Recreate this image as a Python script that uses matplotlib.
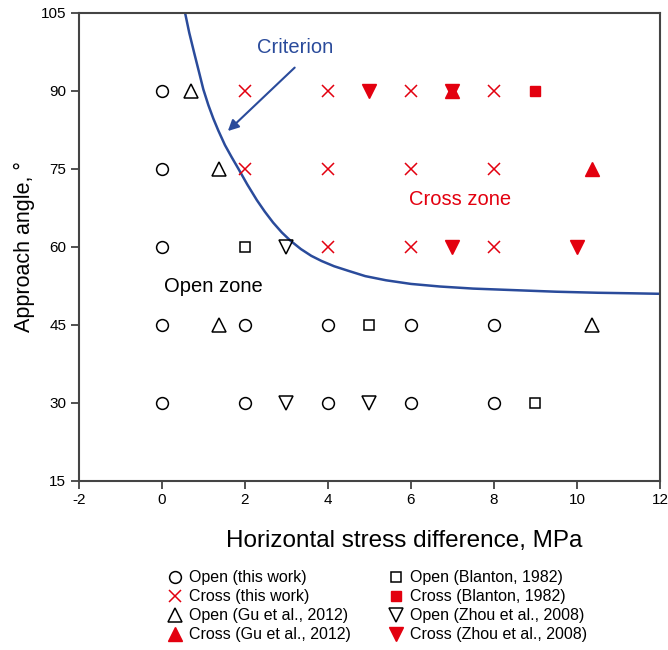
import matplotlib
matplotlib.use("Agg")
import matplotlib.pyplot as plt

plt.rcParams['font.family'] = ['Liberation Sans', 'DejaVu Sans']
plt.rcParams['axes.unicode_minus'] = False

RED = '#e3000f'
BLUE = '#2a4b9b'

# Data
open_this_x = [0, 0, 0, 0, 0, 2, 2, 4, 4, 6, 6, 8, 8]
open_this_y = [90, 75, 60, 45, 30, 45, 30, 45, 30, 45, 30, 45, 30]
cross_this_x = [2, 4, 6, 8, 2, 4, 6, 8, 4, 6, 8]
cross_this_y = [90, 90, 90, 90, 75, 75, 75, 75, 60, 60, 60]
open_gu_x = [0.7, 1.37, 1.37, 10.37]
open_gu_y = [90, 75, 45, 45]
cross_gu_x = [7.0, 10.37]
cross_gu_y = [90, 75]
open_blanton_x = [2, 5, 9]
open_blanton_y = [60, 45, 30]
cross_blanton_x = [9]
cross_blanton_y = [90]
open_zhou_x = [3, 3, 5]
open_zhou_y = [60, 30, 30]
cross_zhou_x = [5, 7, 7, 10]
cross_zhou_y = [90, 90, 60, 60]

crit_x = [0.56, 0.66, 0.78, 0.90, 1.00, 1.12, 1.24, 1.36, 1.52, 1.68, 1.84, 2.06, 2.29,
          2.48, 2.68, 2.89, 3.10, 3.35, 3.60, 3.85, 4.15, 4.50, 4.90, 5.40, 6.00, 6.70,
          7.50, 8.50, 9.50, 10.50, 11.30, 12.0]
crit_y = [105.0, 101.2, 97.3, 93.5, 90.3, 87.3, 84.7, 82.4, 79.6, 77.3, 75.1, 72.0, 69.0,
          66.8, 64.7, 62.8, 61.2, 59.6, 58.3, 57.3, 56.3, 55.4, 54.4, 53.6, 52.9, 52.4,
          52.0, 51.7, 51.4, 51.2, 51.1, 51.0]

xticks = [-2, 0, 2, 4, 6, 8, 10, 12]
yticks = [15, 30, 45, 60, 75, 90, 105]

fig = plt.figure(figsize=(6.68, 6.5), dpi=100)
ax = fig.add_axes([0.118, 0.26, 0.870, 0.72])

ms = 8.5
ax.plot(crit_x, crit_y, color=BLUE, lw=1.8, zorder=2)

h1, = ax.plot(open_this_x, open_this_y, 'o', ms=ms, mfc='none', mec='black', mew=1.1, ls='none', label='Open (this work)')
h2, = ax.plot(cross_this_x, cross_this_y, 'x', ms=ms, mec=RED, mew=1.1, ls='none', label='Cross (this work)')
h3, = ax.plot(open_gu_x, open_gu_y, '^', ms=10, mfc='none', mec='black', mew=1.1, ls='none', label='Open (Gu et al., 2012)')
h4, = ax.plot(cross_gu_x, cross_gu_y, '^', ms=10, mfc=RED, mec=RED, mew=1.0, ls='none', label='Cross (Gu et al., 2012)')
h5, = ax.plot(open_blanton_x, open_blanton_y, 's', ms=7.5, mfc='none', mec='black', mew=1.1, ls='none', label='Open (Blanton, 1982)')
h6, = ax.plot(cross_blanton_x, cross_blanton_y, 's', ms=7.5, mfc=RED, mec=RED, mew=1.0, ls='none', label='Cross (Blanton, 1982)')
h7, = ax.plot(open_zhou_x, open_zhou_y, 'v', ms=10, mfc='none', mec='black', mew=1.1, ls='none', label='Open (Zhou et al., 2008)')
h8, = ax.plot(cross_zhou_x, cross_zhou_y, 'v', ms=10, mfc=RED, mec=RED, mew=1.0, ls='none', label='Cross (Zhou et al., 2008)')

ax.annotate('', xy=(1.59, 82.3), xytext=(3.2, 94.5),
            arrowprops=dict(arrowstyle='-|>', color=BLUE, lw=1.5, mutation_scale=16, shrinkA=0, shrinkB=0))
ax.text(3.21, 98.3, 'Criterion', color=BLUE, fontsize=14.5, ha='center', va='center')
ax.text(7.18, 69.2, 'Cross zone', color=RED, fontsize=14.5, ha='center', va='center')
ax.text(1.23, 52.5, 'Open zone', color='black', fontsize=14.5, ha='center', va='center')

ax.set_xlim(-2, 12)
ax.set_ylim(15, 105)
ax.set_xticks(xticks)
ax.set_yticks(yticks)
ax.tick_params(direction='out', length=5.5, width=1.2, labelsize=11, colors='#333333',
               labelcolor='black', pad=3.5)
for s in ax.spines.values():
    s.set_linewidth(1.5)
    s.set_color('#444444')

ax.set_xlabel('Horizontal stress difference, MPa', fontsize=17.5, labelpad=16, x=0.56)
ax.set_ylabel('Approach angle, °', fontsize=15.5, labelpad=4)

fig.legend(handles=[h1, h2, h3, h4, h5, h6, h7, h8], loc='upper center',
           bbox_to_anchor=(0.563, 0.14), ncol=2, frameon=False, fontsize=11.5,
           columnspacing=2.2, handletextpad=0.3, labelspacing=0.25, handlelength=1.2,
           borderpad=0.2)

fig.savefig('out.png', dpi=100)
